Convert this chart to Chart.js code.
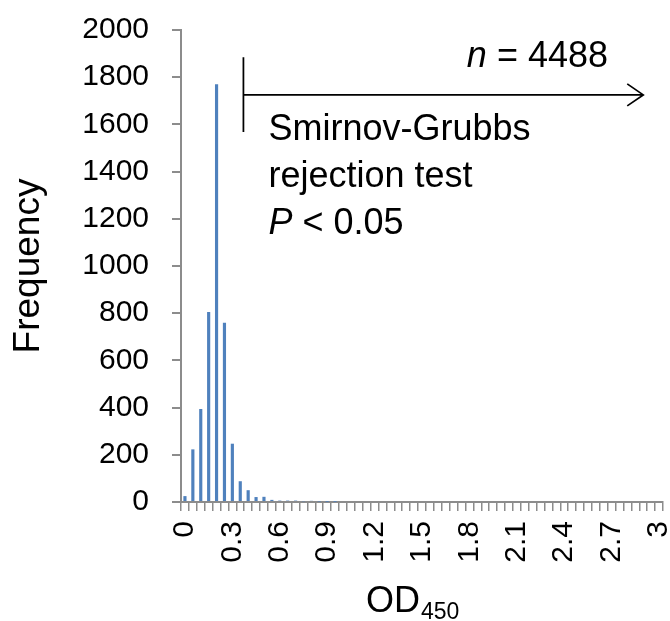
<!DOCTYPE html>
<html>
<head>
<meta charset="utf-8">
<script src="https://cdn.jsdelivr.net/npm/chart.js@4"></script>
<style>
  html, body { margin: 0; padding: 0; background: #fff; }
  #wrap { width: 670px; height: 621px; }
</style>
</head>
<body>
<div id="wrap"><canvas id="myChart"></canvas></div>
<script>
// OD450 bins (0.05 wide)
var binLabels = ['0','0.05','0.1','0.15','0.2','0.25','0.3','0.35','0.4','0.45',
  '0.5','0.55','0.6','0.65','0.7','0.75','0.8','0.85','0.9','0.95',
  '1','1.05','1.1','1.15','1.2','1.25','1.3','1.35','1.4','1.45',
  '1.5','1.55','1.6','1.65','1.7','1.75','1.8','1.85','1.9','1.95',
  '2','2.05','2.1','2.15','2.2','2.25','2.3','2.35','2.4','2.45',
  '2.5','2.55','2.6','2.65','2.7','2.75','2.8','2.85','2.9','2.95','3'];
// Frequency per bin
var frequency = [25, 223, 394, 805, 1770, 760, 247, 88, 50, 21,
  22, 9, 6, 6, 6, 3, 5, 2, 1, 1,
  0, 0, 0, 0, 0, 0, 0, 0, 0, 0,
  0, 0, 0, 0, 0, 0, 0, 0, 0, 0,
  0, 0, 0, 0, 0, 0, 0, 0, 0, 0,
  0, 0, 0, 0, 0, 0, 0, 0, 0, 0, 0];
var yTicks = [0, 200, 400, 600, 800, 1000, 1200, 1400, 1600, 1800, 2000];

// annotation (in data units)
var cutoffOD = 0.37;
var arrowEndOD = 2.9;
var arrowY = 1725;
var cutoffTop = 1885;
var cutoffBottom = 1568;
var binWidth = 0.05;

var FONT = 'Liberation Sans, Arial, sans-serif';

// draws the cutoff marker, arrow, notes and x title
var annotate = {
  id: 'annotate',
  afterDatasetsDraw: function (chart) {
    var ctx = chart.ctx;
    var x = chart.scales.x, y = chart.scales.y;
    var cx = x.getPixelForValue(cutoffOD / binWidth);
    var ex = x.getPixelForValue(arrowEndOD / binWidth);
    var ay = y.getPixelForValue(arrowY);
    ctx.save();
    ctx.strokeStyle = '#000';
    ctx.lineWidth = 1.75;
    ctx.beginPath();
    ctx.moveTo(cx, y.getPixelForValue(cutoffTop));
    ctx.lineTo(cx, y.getPixelForValue(cutoffBottom));
    ctx.moveTo(cx, ay);
    ctx.lineTo(ex, ay);
    ctx.moveTo(ex - 16, ay - 11);
    ctx.lineTo(ex, ay);
    ctx.lineTo(ex - 16, ay + 11);
    ctx.stroke();

    ctx.fillStyle = '#000';
    ctx.textBaseline = 'alphabetic';
    ctx.textAlign = 'left';
    // n = 4488, right aligned
    var rest = ' = 4488';
    ctx.font = '36px ' + FONT;
    var wRest = ctx.measureText(rest).width;
    ctx.font = 'italic 36px ' + FONT;
    var wN = ctx.measureText('n').width;
    var right = 608;
    ctx.fillText('n', right - wRest - wN, ay - 28);
    ctx.font = '36px ' + FONT;
    ctx.fillText(rest, right - wRest, ay - 28);

    var tx = cx + 25;
    ctx.font = '36px ' + FONT;
    ctx.fillText('Smirnov-Grubbs', tx, ay + 45);
    ctx.fillText('rejection test', tx, ay + 92);
    ctx.font = 'italic 36px ' + FONT;
    ctx.fillText('P', tx, ay + 139);
    var wP = ctx.measureText('P').width;
    ctx.font = '36px ' + FONT;
    ctx.fillText(' < 0.05', tx + wP, ay + 139);

    // x axis title OD450
    ctx.font = '36px ' + FONT;
    ctx.fillText('OD', 366, 612);
    var wOD = ctx.measureText('OD').width;
    ctx.font = '23px ' + FONT;
    ctx.fillText('450', 366 + wOD + 1, 619);
    ctx.restore();
  }
};

var myChart = new Chart(document.getElementById('myChart'), {
  type: 'bar',
  data: {
    labels: binLabels,
    datasets: [{
      label: 'Frequency',
      data: frequency,
      backgroundColor: '#4F81BD',
      barPercentage: 0.4,
      categoryPercentage: 1
    }]
  },
  options: {
    responsive: true,
    maintainAspectRatio: false,
    animation: false,
    layout: { padding: { left: 7, right: 7, top: 30, bottom: 50 } },
    plugins: {
      legend: { display: false },
      tooltip: { enabled: false }
    },
    scales: {
      x: {
        grid: { drawOnChartArea: false, color: '#8c8c8c', lineWidth: 1.5, tickLength: 9, offset: true },
        border: { color: '#8c8c8c', width: 2 },
        ticks: {
          autoSkip: false,
          minRotation: 90,
          maxRotation: 90,
          padding: 10,
          color: '#000',
          font: { family: FONT, size: 30 },
          callback: function (val, i) {
            return i % 6 === 0 ? binLabels[i] : '';
          }
        },
        afterFit: function (s) {
          s.height = 621 - 50 - 502;
          s.paddingLeft = 0;
          s.paddingRight = 0;
        }
      },
      y: {
        min: 0,
        max: 2000,
        afterBuildTicks: function (s) {
          s.ticks = yTicks.map(function (v) { return { value: v }; });
        },
        grid: { drawOnChartArea: false, color: '#8c8c8c', lineWidth: 2, tickLength: 9 },
        border: { color: '#8c8c8c', width: 2 },
        ticks: {
          padding: 23,
          color: '#000',
          font: { family: FONT, size: 30 },
          callback: function (v) { return String(v); }
        },
        title: {
          display: true,
          text: 'Frequency',
          color: '#000',
          font: { family: FONT, size: 37 },
          padding: 0
        },
        afterFit: function (s) {
          s.width = 181 - 7;
          s.paddingTop = 0;
          s.paddingBottom = 0;
        }
      }
    }
  },
  plugins: [annotate]
});
</script>
</body>
</html>
